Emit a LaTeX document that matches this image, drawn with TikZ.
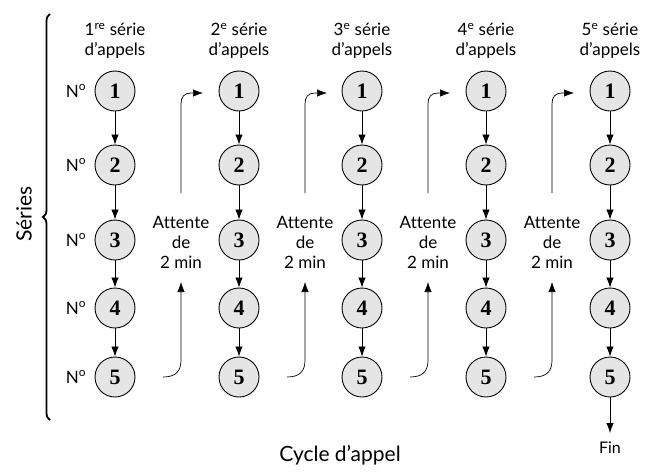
\documentclass[tikz,border=0pt]{standalone}
\usepackage{fontspec}
\setmainfont{Lato}[Ligatures={NoCommon}]
\newfontfamily\numfont{Liberation Serif}
\usetikzlibrary{arrows.meta,decorations.pathreplacing}
\begin{document}
\begin{tikzpicture}[x=1pt,y=-1pt,
  ball/.style={circle,draw,line width=0.9pt,fill=gray!20,minimum size=40pt,inner sep=0pt,font=\numfont\bfseries\fontsize{22}{22}\selectfont},
  txt/.style={font=\fontsize{17}{20}\selectfont,align=center},
  arr/.style={line width=0.8pt,-{Latex[length=10pt,width=7.5pt]}},
  thin/.style={line width=0.7pt}]
\useasboundingbox (0,0) rectangle (647,474);
% brace
\draw[line width=1.8pt,decorate,decoration={brace,amplitude=7pt}] (50,420) -- (50,14);
\node[font=\fontsize{21}{21}\selectfont,rotate=90] (series) at (24,214) {Séries};
\node[font=\fontsize{21}{21}\selectfont] (cycle) at (340,455) {Cycle d’appel};
% columns
\foreach \c/\x/\s in {1/115/re,2/239/e,3/362/e,4/486/e,5/610/e}{
  \node[txt] (h\c) at (\x,41) {\c\textsuperscript{\s} série\\d’appels};
  \foreach \r/\y in {1/91,2/165,3/240,4/308,5/377}{
    \node[ball] (b\c\r) at (\x,\y) {\r};
  }
  \draw[arr] (b\c1) -- (b\c2);
  \draw[arr] (b\c2) -- (b\c3);
  \draw[arr] (b\c3) -- (b\c4);
  \draw[arr] (b\c4) -- (b\c5);
}
\foreach \r/\y in {1/91,2/165,3/240,4/308,5/377}{
  \node[txt] (n\r) at (76,\y) {N\textsuperscript{o}};
}
\coordinate (fin) at (610,433);
\draw[arr] (b55) -- (fin);
\node[font=\fontsize{16}{16}\selectfont] (fint) at (610,448) {Fin};
% waits
\foreach \i/\x in {1/181,2/305,3/428,4/552}{
  \node[txt] (w\i) at (\x,242) {Attente\\de\\2 min};
  \coordinate (ua\i) at (\x,193);
  \coordinate (ub\i) at (\x+22,93);
  \draw[thin,-{Latex[length=10pt,width=7.5pt]}] (ua\i) -- (\x,104) .. controls (\x,97) and (\x+3,93) .. (\x+10,93) -- (ub\i);
  \coordinate (la\i) at (\x-18,377);
  \coordinate (lb\i) at (\x,282);
  \draw[thin,-{Latex[length=10pt,width=7.5pt]}] (la\i) .. controls (\x-5,377) and (\x,371) .. (\x,360) -- (lb\i);
}
\end{tikzpicture}
\end{document}
